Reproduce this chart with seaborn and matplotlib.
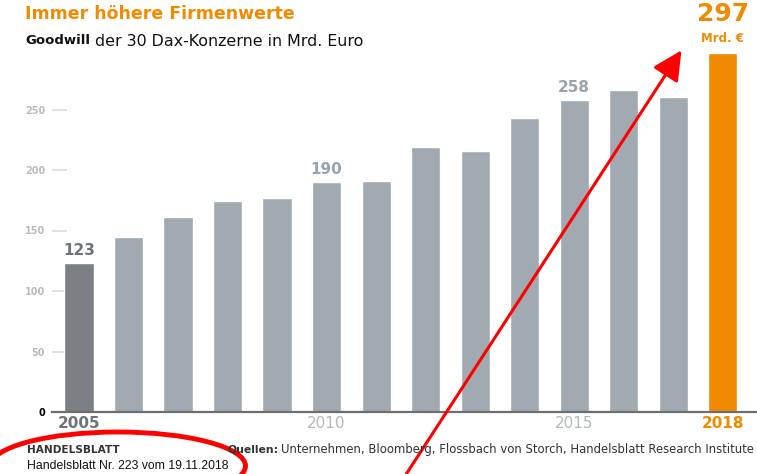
import matplotlib
matplotlib.use("Agg")
import matplotlib.pyplot as plt
import seaborn as sns
import pandas as pd
from matplotlib.patches import Ellipse, FancyArrowPatch

years = [str(y) for y in range(2005, 2019)]
values = [123, 145, 161, 174, 177, 190, 191, 219, 216, 243, 258, 266, 260, 297]
shown_labels = {"2005": "123", "2010": "190", "2015": "258"}
tick_years = ["2005", "2010", "2015", "2018"]
y_ticks = [0, 50, 100, 150, 200, 250]

ORANGE = "#F08A00"
GREY = "#A1AAB1"
DARK = "#7B8086"

colors = [DARK] + [GREY] * 12 + [ORANGE]
df = pd.DataFrame({"year": years, "value": values})

sns.set_theme(style="white")
plt.rcParams["font.family"] = ["DejaVu Sans"]

W, H = 757, 474
fig = plt.figure(figsize=(W / 100, H / 100), dpi=100)
y0_px = 412
ppu = 1.21
ymax = 310
ax_left = 52 / W
ax_bottom = (H - y0_px) / H
ax_height = ymax * ppu / H
ax = fig.add_axes([ax_left, ax_bottom, 1 - ax_left, ax_height])

sns.barplot(data=df, x="year", y="value", hue="year", palette=colors,
            legend=False, width=0.59, saturation=1, ax=ax)

ax.set_xlim(-0.545, 13.69)
ax.set_ylim(0, ymax)
for s in ["top", "right", "left"]:
    ax.spines[s].set_visible(False)
ax.spines["bottom"].set_color("#6E6E6E")
ax.spines["bottom"].set_linewidth(1.6)

ax.set_yticks(y_ticks)
ax.set_yticklabels([str(t) for t in y_ticks])
ax.tick_params(axis="y", left=True, direction="in", length=10.5, width=1.2,
               color="#D8DADC", pad=5, labelsize=7, labelcolor="#B8BCC0")
for lbl in ax.get_yticklabels():
    lbl.set_fontweight("bold")
yl = ax.get_yticklabels()
yl[0].set_color("black")
ax.yaxis.get_major_ticks()[0].tick1line.set_visible(False)

xpos = [years.index(y) for y in tick_years]
ax.set_xticks(xpos)
ax.set_xticklabels(tick_years)
ax.tick_params(axis="x", bottom=True, length=0, pad=3, labelsize=11)
xcols = ["#6E7378", "#B3B8BD", "#B3B8BD", ORANGE]
xweights = ["heavy", "normal", "normal", "heavy"]
for lbl, c, w in zip(ax.get_xticklabels(), xcols, xweights):
    lbl.set_color(c)
    lbl.set_fontweight(w)
ax.set_xlabel("")
ax.set_ylabel("")
ax.grid(False)

for y, lab in shown_labels.items():
    i = years.index(y)
    ax.text(i, values[i] + 4, lab, ha="center", va="bottom", fontsize=11,
            fontweight="bold", color="#6E7378" if y == "2005" else "#9AA2A9")

# big value for 2018
ax.text(13, values[13] + 22, "297", ha="center", va="bottom", fontsize=18,
        fontweight="heavy", color=ORANGE, clip_on=False)
ax.text(13, values[13] + 6, "Mrd. €", ha="center", va="bottom", fontsize=8.5,
        fontweight="heavy", color=ORANGE, clip_on=False)

# titles
fig.text(25 / W, 1 - 14 / H, "Immer höhere Firmenwerte", fontsize=12.5,
         fontweight="heavy", color=ORANGE, va="center", ha="left")
t1 = fig.text(25 / W, 1 - 41 / H, "Goodwill", fontsize=9.5, fontweight="heavy",
              color="#111111", va="center", ha="left")
fig.canvas.draw()
bb = t1.get_window_extent()
fig.text(bb.x1 / W + 5 / W, 1 - 41 / H, "der 30 Dax-Konzerne in Mrd. Euro",
         fontsize=11.4, color="#111111", va="center", ha="left")

# footer
fig.text(27 / W, 1 - 450 / H, "HANDELSBLATT", fontsize=7.6, fontweight="heavy",
         color="#333333", va="center")
fig.text(27 / W, 1 - 466 / H, "Handelsblatt Nr. 223 vom 19.11.2018", fontsize=8.8,
         color="#111111", va="center", family=["Liberation Sans", "DejaVu Sans"])
q = fig.text(227 / W, 1 - 450 / H, "Quellen:", fontsize=7.8, fontweight="heavy",
             color="#333333", va="center")
fig.canvas.draw()
qb = q.get_window_extent()
fig.text(qb.x1 / W + 3 / W, 1 - 450 / H,
         "Unternehmen, Bloomberg, Flossbach von Storch, Handelsblatt Research Institute",
         fontsize=8.35, color="#333333", va="center")

# red annotations
ell = Ellipse((118 / W, 1 - 466 / H), 255 / W, 68 / H, transform=fig.transFigure,
              fill=False, edgecolor="red", linewidth=3.5)
fig.add_artist(ell)
arr = FancyArrowPatch((405 / W, 1 - 476 / H), (683 / W, 1 - 48 / H),
                      transform=fig.transFigure,
                      arrowstyle="-|>,head_length=9,head_width=4.5",
                      color="red", linewidth=2.2, mutation_scale=2)
fig.add_artist(arr)

fig.savefig("out.png", dpi=100)
